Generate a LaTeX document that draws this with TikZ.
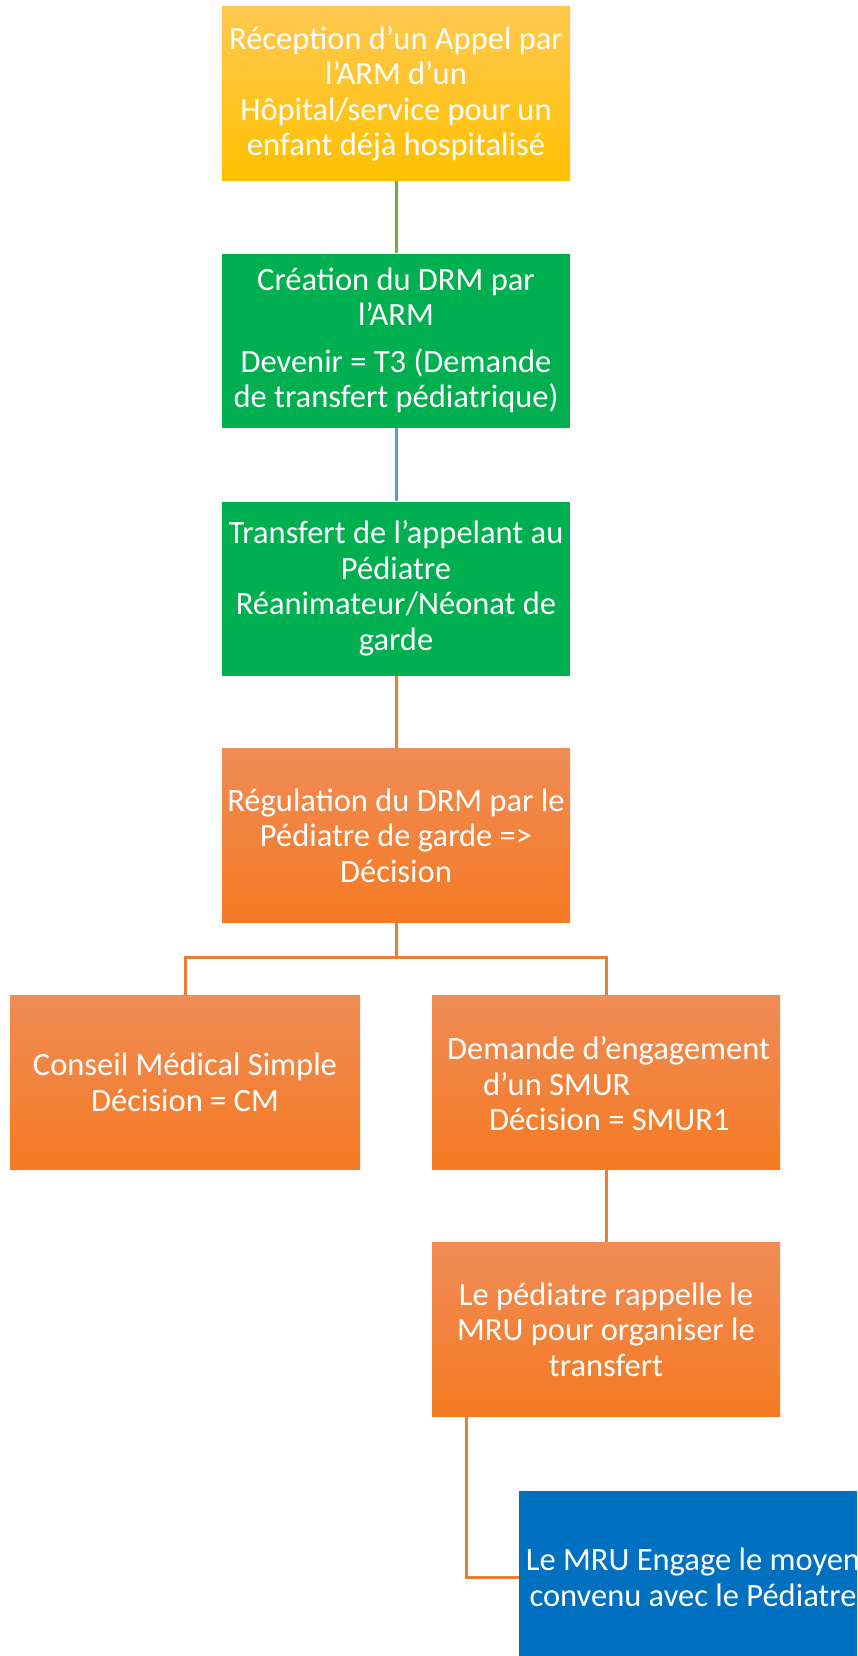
\documentclass[tikz,border=0pt]{standalone}
\usepackage{fontspec}
\setmainfont{Carlito}
\usetikzlibrary{calc}
\definecolor{yTop}{RGB}{255,200,80}
\definecolor{yBot}{RGB}{255,192,0}
\definecolor{gFill}{RGB}{0,176,80}
\definecolor{oTop}{RGB}{240,140,86}
\definecolor{oBot}{RGB}{244,122,34}
\definecolor{bFill}{RGB}{0,112,192}
\definecolor{gLine}{RGB}{112,173,71}
\definecolor{bLine}{RGB}{91,155,213}
\definecolor{oLine}{RGB}{237,125,49}
\newcommand{\boxfont}{\fontsize{32.5}{35.5}\selectfont}
\tikzset{
  box/.style={rectangle, minimum width=348pt, minimum height=174pt, inner sep=0pt,
    text=white, align=center, font=\boxfont},
  ybox/.style={box, top color=yTop, bottom color=yBot},
  gbox/.style={box, fill=gFill},
  obox/.style={box, top color=oTop, bottom color=oBot},
  bbox/.style={box, fill=bFill},
  freetext/.style={anchor=base west, text=white, font=\boxfont, inner sep=0pt},
  link/.style={line width=3pt},
}
\begin{document}
\begin{tikzpicture}[x=1pt,y=-1pt]
\useasboundingbox (0,0) rectangle (857,1656);
\clip (0,0) rectangle (857,1656);
\fill[white] (0,0) rectangle (857,1656);
\node[ybox] (b1) at (396,94) {Réception d’un Appel par\\l’ARM d’un\\Hôpital/service pour un\\enfant déjà hospitalisé};
\node[gbox] (b2) at (396,340.5) {Création du DRM par\\l’ARM\\[11pt]Devenir = T3 (Demande\\de transfert pédiatrique)};
\node[gbox] (b3) at (396,588.5) {Transfert de l’appelant au\\Pédiatre\\Réanimateur/Néonat de\\garde};
\node[obox] (b4) at (396,835.5) {Régulation du DRM par le\\Pédiatre de garde =>\\Décision};
\node[obox, minimum width=350pt] (b5) at (185,1082.5) {Conseil Médical Simple\\Décision = CM};
\node[obox] (b6) at (606,1082.5) {};
\node[freetext] (t6a) at (447,1059) {Demande d’engagement};
\node[freetext] (t6b) at (483,1095) {d’un SMUR};
\node[freetext] (t6c) at (489,1130) {Décision = SMUR1};
\node[obox] (b7) at (606,1329.5) {Le pédiatre rappelle le\\MRU pour organiser le\\transfert};
\node[bbox] (b8) at (693,1577.5) {Le MRU Engage le moyen\\convenu avec le Pédiatre};
\coordinate (bus) at (396,957);
\coordinate (drop) at ($(b7.south west)+(35,0)$);
\draw[link, gLine] (b1.south) -- (b2.north);
\draw[link, bLine] (b2.south) -- (b3.north);
\draw[link, oLine] (b3.south) -- (b4.north);
\draw[link, oLine] (b4.south) -- (bus) -| (b5.north);
\draw[link, oLine] (bus) -| (b6.north);
\draw[link, oLine] (b6.south) -- (b7.north);
\draw[link, oLine] (drop) |- (b8.west);
\end{tikzpicture}
\end{document}
